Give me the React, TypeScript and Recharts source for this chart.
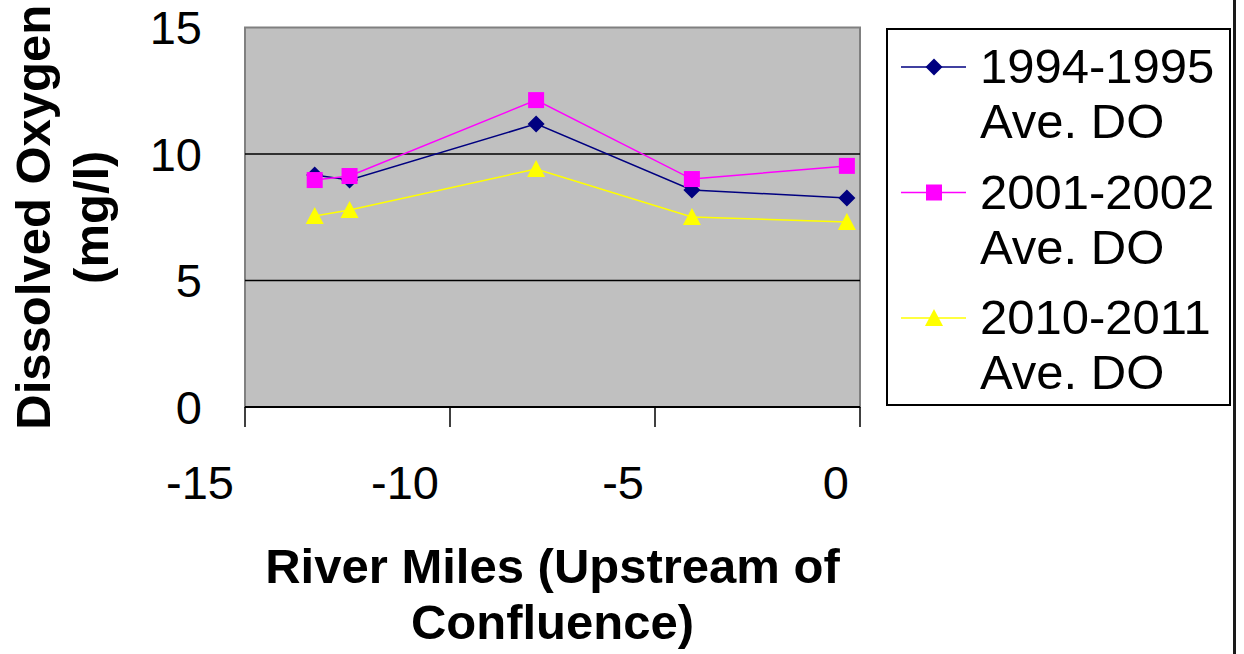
import React from 'react'
import {
  LineChart,
  Line,
  XAxis,
  YAxis,
  ReferenceArea,
  ReferenceLine,
  Legend,
} from 'recharts'

// river miles upstream of the confluence (negative = upstream)
const riverMiles = [-13.3, -12.45, -7.9, -4.1, -0.32]

// average dissolved oxygen, mg/l
const do1994 = [9.17, 8.97, 11.19, 8.58, 8.26]
const do2001 = [8.97, 9.13, 12.13, 9.01, 9.53]
const do2010 = [7.55, 7.79, 9.41, 7.51, 7.31]

const xTicks = [-15, -10, -5, 0]
const yTicks = [0, 5, 10, 15]
const gridValues = [5, 10]

const seriesLabels = [
  ['1994-1995', 'Ave. DO'],
  ['2001-2002', 'Ave. DO'],
  ['2010-2011', 'Ave. DO'],
]

type Marker = 'diamond' | 'square' | 'triangle'

const series: { key: string; color: string; marker: Marker }[] = [
  { key: 'a', color: '#000080', marker: 'diamond' },
  { key: 'b', color: '#FF00FF', marker: 'square' },
  { key: 'c', color: '#FFFF00', marker: 'triangle' },
]

const data = riverMiles.map((x, i) => ({
  x,
  a: do1994[i],
  b: do2001[i],
  c: do2010[i],
}))

const FONT = '"Liberation Sans", Arial, sans-serif'

function markerShape(kind: Marker, cx: number, cy: number, color: string, key?: string) {
  if (kind === 'diamond') {
    const h = 8.5
    return (
      <path key={key} d={`M${cx},${cy - h}L${cx + h},${cy}L${cx},${cy + h}L${cx - h},${cy}Z`} fill={color} />
    )
  }
  if (kind === 'square') {
    return <rect key={key} x={cx - 8} y={cy - 8} width={16} height={16} fill={color} />
  }
  return (
    <path key={key} d={`M${cx},${cy - 9}L${cx + 9},${cy + 8}L${cx - 9},${cy + 8}Z`} fill={color} />
  )
}

function XTitle(props: any) {
  const vb = props.viewBox || { x: 245, y: 407, width: 615 }
  const cx = vb.x + vb.width / 2
  return (
    <text textAnchor="middle" fontFamily={FONT} fontWeight="bold" fontSize={49} fill="#000">
      <tspan x={cx} y={vb.y + 176}>River Miles (Upstream of</tspan>
      <tspan x={cx} y={vb.y + 232}>Confluence)</tspan>
    </text>
  )
}

function YTitle(props: any) {
  const vb = props.viewBox || { x: 0, y: 27.5, height: 379.5 }
  const cy = vb.y + vb.height / 2
  const x1 = vb.x + 50
  const x2 = vb.x + 108
  return (
    <g fontFamily={FONT} fontWeight="bold" fontSize={49} fill="#000">
      <text x={x1} y={cy} textAnchor="middle" transform={`rotate(-90, ${x1}, ${cy})`}>
        Dissolved Oxygen
      </text>
      <text x={x2} y={cy} textAnchor="middle" transform={`rotate(-90, ${x2}, ${cy})`}>
        (mg/l)
      </text>
    </g>
  )
}

function LegendBox() {
  return (
    <svg width={345} height={378} style={{ display: 'block' }}>
      <rect x={1} y={1} width={343} height={376} fill="#fff" stroke="#000" strokeWidth={2} />
      {series.map((s, i) => {
        const ly = 39 + i * 125.5
        return (
          <g key={s.key}>
            <line x1={15} x2={80} y1={ly} y2={ly} stroke={s.color} strokeWidth={1.5} />
            {markerShape(s.marker, 48, ly, s.color)}
            <text fontFamily={FONT} fontSize={49} fill="#000">
              <tspan x={94} y={ly + 16}>{seriesLabels[i][0]}</tspan>
              <tspan x={94} y={ly + 71}>{seriesLabels[i][1]}</tspan>
            </text>
          </g>
        )
      })}
    </svg>
  )
}

export default function App() {
  return (
    <div style={{ position: 'absolute', left: 0, top: 0, width: 1244, height: 654, background: '#fff' }}>
      <LineChart
        width={1244}
        height={654}
        data={data}
        margin={{ top: 27.5, right: 384, bottom: 0, left: 0 }}
      >
        <ReferenceArea
          x1={-15}
          x2={0}
          y1={0}
          y2={15}
          fill="#C0C0C0"
          fillOpacity={1}
          stroke="#808080"
          strokeWidth={2}
          ifOverflow="visible"
        />
        {gridValues.map((v) => (
          <ReferenceLine key={v} y={v} stroke="#000" strokeWidth={1.5} />
        ))}
        <XAxis
          dataKey="x"
          type="number"
          domain={[-15, 0]}
          ticks={xTicks}
          height={247}
          tickSize={20}
          tickMargin={39}
          axisLine={{ stroke: '#000', strokeWidth: 2 }}
          tickLine={{ stroke: '#000', strokeWidth: 1.5 }}
          tick={{ fill: '#000', fontSize: 47, fontFamily: FONT, textAnchor: 'end', dx: -11 }}
          allowDataOverflow
          label={(p: any) => <XTitle {...p} />}
        />
        <YAxis
          type="number"
          domain={[0, 15]}
          ticks={yTicks}
          width={245}
          tickSize={0}
          tickMargin={43}
          axisLine={false}
          tickLine={false}
          tick={{ fill: '#000', fontSize: 47, fontFamily: FONT }}
          allowDataOverflow
          label={(p: any) => <YTitle {...p} />}
        />
        <Legend
          layout="vertical"
          align="center"
          verticalAlign="middle"
          wrapperStyle={{ left: 886, top: 28, width: 345, height: 378 }}
          content={() => <LegendBox />}
        />
        {series.map((s) => (
          <Line
            key={s.key}
            dataKey={s.key}
            stroke={s.color}
            strokeWidth={1.5}
            type="linear"
            isAnimationActive={false}
            dot={(p: any) => markerShape(s.marker, p.cx, p.cy, s.color, `${s.key}-${p.index}`)}
            activeDot={false}
          />
        ))}
      </LineChart>
      <div
        style={{
          position: 'absolute',
          left: 1233,
          top: 0,
          width: 3,
          height: 654,
          background: '#1a1a1a',
        }}
      />
    </div>
  )
}
